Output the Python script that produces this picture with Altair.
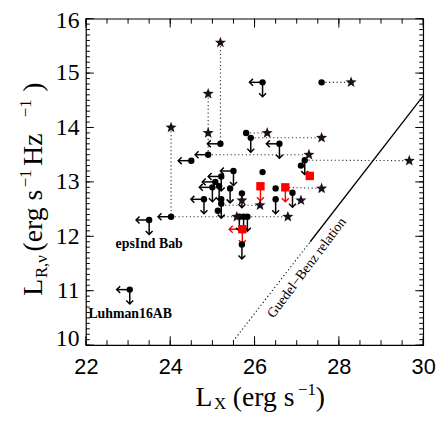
import altair as alt
import pandas as pd

# ---------------- data (log Lx, log L_R) ----------------
circ_x = [25.19, 24.90, 24.50, 26.19, 27.59, 25.80, 25.91, 26.59, 27.19, 27.10, 26.19,
          25.50, 25.21, 25.07, 25.00, 25.16, 25.42, 24.80, 25.21, 25.13, 25.21, 25.70,
          25.64, 25.74, 25.83, 25.70, 26.50, 26.50, 26.90, 24.02, 23.50, 23.04]
circ_y = [13.70, 13.50, 13.39, 14.83, 14.83, 13.90, 13.81, 13.70, 13.40, 13.30, 13.18,
          13.20, 13.10, 13.00, 12.90, 12.92, 12.88, 12.68, 12.68, 12.47, 12.60, 12.79,
          12.36, 12.36, 12.36, 11.85, 12.88, 12.68, 12.80, 12.36, 12.30, 11.02]
circ_xlim = [1, 1, 1, 1, 0, 0, 0, 1, 0, 0, 0,
             1, 1, 1, 1, 0, 0, 1, 0, 0, 0, 0,
             0, 0, 0, 0, 0, 0, 0, 1, 1, 1]
circ_ylim = [0, 0, 0, 1, 0, 0, 1, 1, 1, 0, 0,
             1, 1, 0, 1, 1, 1, 1, 0, 0, 1, 1,
             1, 1, 1, 1, 0, 1, 1, 0, 1, 1]

star_x = [25.19, 24.90, 24.90, 24.02, 27.29, 28.29, 26.30, 27.59, 29.67, 27.59, 27.10, 25.70, 26.13, 25.58, 26.79]
star_y = [15.56, 14.62, 13.90, 14.00, 13.50, 14.83, 13.90, 13.81, 13.39, 12.88, 12.66, 12.66, 12.57, 12.36, 12.36]

sq_x = [26.14, 26.73, 27.31, 25.71]
sq_y = [12.92, 12.90, 13.11, 12.13]
sq_xlim = [0, 0, 0, 1]
sq_ylim = [1, 1, 0, 1]

seg_x1 = [25.19, 24.90, 24.90, 24.02, 24.02, 25.83, 27.59, 25.80, 25.91, 27.19, 26.73, 25.21]
seg_y1 = [15.56, 14.62, 13.50, 14.00, 12.36, 12.36, 14.83, 13.90, 13.81, 13.40, 12.90, 12.57]
seg_x2 = [25.19, 24.90, 27.29, 24.02, 25.58, 26.79, 28.29, 26.30, 27.59, 29.67, 27.59, 26.13]
seg_y2 = [13.70, 13.50, 13.50, 12.36, 12.36, 12.36, 14.83, 13.90, 13.81, 13.39, 12.88, 12.57]

gb_x = [25.49, 27.32, 30.0]
gb_y = [10.07, 11.90, 14.58]

lab_text = ["epsInd Bab", "Luhman16AB"]
lab_x = [23.50, 23.05]
lab_y = [11.85, 10.58]

gb_label = "Guedel\u2212Benz relation"
gb_lx, gb_ly = 27.24, 11.42

x_ticks_major = [22, 24, 26, 28, 30]
x_ticks_minor = [22 + 0.5 * i for i in range(17)]
y_ticks_major = [10, 11, 12, 13, 14, 15, 16]
y_ticks_minor = [round(10 + 0.1 * i, 2) for i in range(61)]

# ---------------- setup ----------------
W, H = 342, 331
XL = 0.31    # left-arrow length (x units)
YL = 0.265   # down-arrow length (y units)
STAR = ("M0,-1L0.247,-0.34L0.951,-0.309L0.4,0.13L0.588,0.809L0,0.42"
        "L-0.588,0.809L-0.4,0.13L-0.951,-0.309L-0.247,-0.34Z")

xs = alt.Scale(domain=[22, 30], nice=False, zero=False)
ys = alt.Scale(domain=[10, 16], nice=False, zero=False)
xaxis = alt.Axis(values=x_ticks_major, ticks=False, tickSize=0, domain=False, grid=False, title=None,
                 labelFont="Liberation Sans", labelFontSize=22, labelColor="black",
                 labelPadding=12, labelFlush=False, format="d")
yaxis = alt.Axis(values=y_ticks_major, ticks=False, tickSize=0, domain=False, grid=False, title=None,
                 labelFont="Liberation Serif", labelFontSize=24, labelColor="black",
                 labelPadding=7, labelFlush=False, format="d",
                 labelOffset={"condition": [{"test": "datum.value == 10", "value": -7},
                                            {"test": "datum.value == 16", "value": 2}],
                              "value": 0})


def X(f):
    return alt.X(f, type="quantitative", scale=xs, axis=xaxis)


def Y(f):
    return alt.Y(f, type="quantitative", scale=ys, axis=yaxis)


circ = pd.DataFrame({"x": circ_x, "y": circ_y, "xl": circ_xlim, "yl": circ_ylim})
circ["c"] = "black"
sq = pd.DataFrame({"x": sq_x, "y": sq_y, "xl": sq_xlim, "yl": sq_ylim})
sq["c"] = "#ff0000"
lim = pd.concat([circ, sq], ignore_index=True)
left = lim[lim["xl"] == 1].copy()
left["xe"] = left["x"] - XL
down = lim[lim["yl"] == 1].copy()
down["ye"] = down["y"] - YL

stars = pd.DataFrame({"x": star_x, "y": star_y})
segs = pd.DataFrame({"x": seg_x1, "y": seg_y1, "x2": seg_x2, "y2": seg_y2})
gb = pd.DataFrame({"x": gb_x[:-1], "y": gb_y[:-1], "x2": gb_x[1:], "y2": gb_y[1:], "k": ["dot", "solid"]})
labs = pd.DataFrame({"t": lab_text, "x": lab_x, "y": lab_y})

col = alt.Color("c:N", scale=None)

layers = []

# dotted connectors
layers.append(alt.Chart(segs).mark_rule(color="#333333", strokeWidth=1.1, strokeDash=[1.2, 2.6]).encode(
    x=X("x"), y=Y("y"), x2="x2", y2="y2"))
# Guedel-Benz relation
layers.append(alt.Chart(gb[gb.k == "dot"]).mark_rule(color="black", strokeWidth=1.1, strokeDash=[1.2, 2.6]).encode(
    x=X("x"), y=Y("y"), x2="x2", y2="y2"))
layers.append(alt.Chart(gb[gb.k == "solid"]).mark_rule(color="black", strokeWidth=1.3).encode(
    x=X("x"), y=Y("y"), x2="x2", y2="y2"))

# limit arrows
layers.append(alt.Chart(left).mark_rule(strokeWidth=1.5).encode(x=X("x"), x2="xe", y=Y("y"), color=col))
layers.append(alt.Chart(left).mark_point(shape="M1,-1L0,0L1,1", filled=False, size=49, strokeWidth=1.5, opacity=1).encode(
    x=X("xe"), y=Y("y"), color=col))
layers.append(alt.Chart(down).mark_rule(strokeWidth=1.5).encode(x=X("x"), y=Y("y"), y2="ye", color=col))
layers.append(alt.Chart(down).mark_point(shape="M-1,-1L0,0L1,-1", filled=False, size=49, strokeWidth=1.5, opacity=1).encode(
    x=X("x"), y=Y("ye"), color=col))

# symbols
layers.append(alt.Chart(circ).mark_circle(size=42, color="black", opacity=1).encode(x=X("x"), y=Y("y")))
layers.append(alt.Chart(stars).mark_point(shape=STAR, filled=True, size=140, color="#1e0f1e", opacity=1).encode(
    x=X("x"), y=Y("y")))
layers.append(alt.Chart(sq).mark_square(size=72, color="#ff0000", opacity=1).encode(x=X("x"), y=Y("y")))

# annotations
layers.append(alt.Chart(labs).mark_text(font="Liberation Serif", fontWeight="bold", fontSize=14, color="black").encode(
    x=X("x"), y=Y("y"), text="t:N"))
layers.append(alt.Chart(pd.DataFrame({"t": [gb_label], "x": [gb_lx], "y": [gb_ly]})).mark_text(
    font="Liberation Serif", fontSize=14, color="black", angle=307, align="center", baseline="middle").encode(
    x=X("x"), y=Y("y"), text="t:N"))


# inward ticks on all four sides
def xt(vals, y0, y1):
    return alt.Chart(pd.DataFrame({"v": vals})).mark_rule(color="black", strokeWidth=1).encode(
        x=X("v"), y=alt.value(y0), y2=alt.value(y1))


def yt(vals, x0, x1):
    return alt.Chart(pd.DataFrame({"v": vals})).mark_rule(color="black", strokeWidth=1).encode(
        y=Y("v"), x=alt.value(x0), x2=alt.value(x1))


layers += [xt(x_ticks_minor, H, H - 5), xt(x_ticks_major, H, H - 9),
           xt(x_ticks_minor, 0, 5), xt(x_ticks_major, 0, 9),
           yt(y_ticks_minor, 0, 4), yt(y_ticks_major, 0, 8),
           yt(y_ticks_minor, W, W - 4), yt(y_ticks_major, W, W - 8)]


# axis titles with sub/superscripts
def piece(txt, px, py, size, angle=0):
    return alt.Chart(pd.DataFrame({"t": [txt]})).mark_text(
        text=txt, font="Liberation Serif", fontSize=size, align="left", baseline="alphabetic",
        angle=angle, color="black").encode(x=alt.value(px), y=alt.value(py))


layers += [piece("L", 111, 393, 28), piece("X", 130, 396, 17), piece("(erg s", 149, 393, 28),
           piece("\u22121", 215, 382, 17), piece(")", 233, 393, 28)]
layers += [piece("L", -45, 281, 28, 270), piece("R,\u03bd", -39, 263, 17, 270),
           piece("(erg s", -45, 236, 28, 270), piece("\u22121", -56, 171, 17, 270),
           piece("Hz", -45, 149, 28, 270), piece("\u22121", -56, 100, 17, 270),
           piece(")", -45, 74, 28, 270)]

chart = alt.layer(*layers).properties(
    width=W, height=H,
    padding={"left": 79, "top": 8, "right": 14, "bottom": 66},
    autosize=alt.AutoSizeParams(type="none"),
    background="white",
).configure_view(stroke="black", strokeWidth=1.2)

chart.save("out.html", embed_options={"renderer": "svg", "actions": False})
